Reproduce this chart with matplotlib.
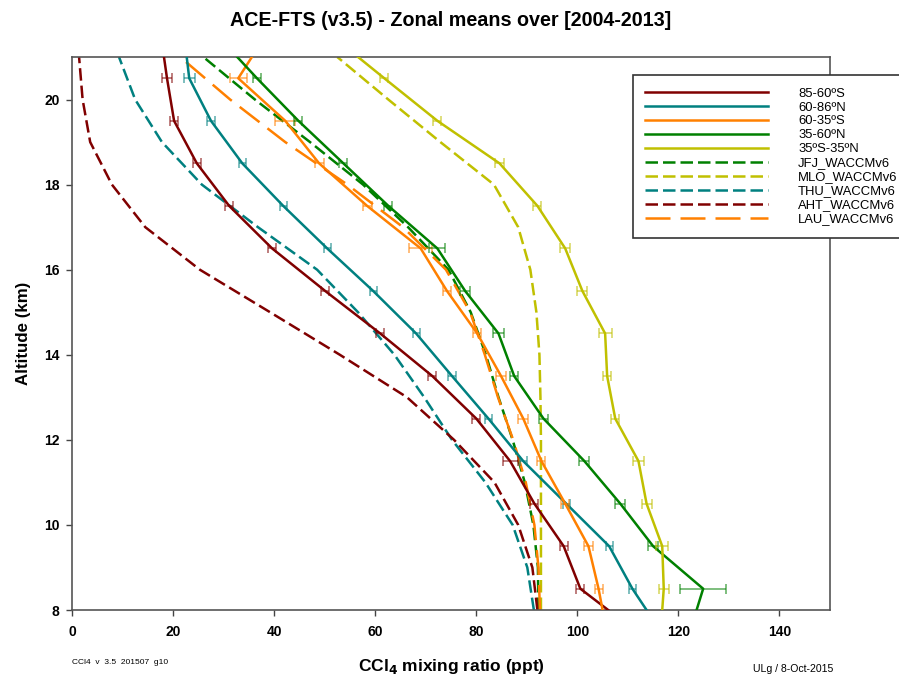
import matplotlib
matplotlib.use("Agg")
import matplotlib.pyplot as plt

plt.rcParams['font.family'] = ['Liberation Sans', 'DejaVu Sans']

# ---------------- data ----------------
# ACE-FTS zonal means: line altitudes (km) and error-bar altitudes (km)
alt_line = [8, 8.5, 9.5, 10.5, 11.5, 12.5, 13.5, 14.5, 15.5, 16.5, 17.5, 18.5, 19.5, 20.5, 21]
alt_err = [8.5, 9.5, 10.5, 11.5, 12.5, 13.5, 14.5, 15.5, 16.5, 17.5, 18.5, 19.5, 20.5]

s85_60S = [106.1, 100.6, 97.3, 91.5, 86.7, 80.0, 71.3, 61.0, 50.1, 39.6, 31.1, 24.7, 20.2, 18.8, 18.2]
s60_86N = [113.7, 110.9, 106.3, 97.8, 89.3, 82.4, 75.2, 68.1, 59.6, 50.5, 41.8, 33.7, 27.5, 23.2, 22.7]
s60_35S = [105.0, 104.2, 102.2, 97.6, 92.9, 89.3, 84.9, 80.2, 74.2, 69.0, 58.4, 48.9, 42.2, 32.9, 35.6]
s35_60N = [123.6, 124.9, 115.0, 108.5, 101.4, 93.3, 87.5, 84.4, 77.8, 72.3, 62.6, 53.7, 44.8, 36.6, 32.7]
s35S_35N = [116.8, 117.1, 116.8, 113.7, 112.1, 107.5, 105.9, 105.5, 101.0, 97.6, 92.1, 84.6, 72.3, 61.8, 56.6]

e85_60S = [0.8, 0.8, 0.8, 1.5, 0.8, 0.8, 0.8, 0.8, 0.8, 0.8, 0.8, 0.8, 1.0]
e60_86N = [0.7, 0.7, 0.7, 0.7, 0.7, 0.7, 0.7, 0.7, 0.7, 0.7, 0.7, 0.7, 1.1]
e60_35S = [0.8, 0.9, 0.8, 0.8, 1.0, 1.0, 0.8, 0.8, 2.3, 0.9, 0.9, 2.0, 1.65]
e35_60N = [4.5, 1.0, 1.0, 1.0, 0.8, 0.8, 1.0, 1.0, 1.6, 0.8, 0.8, 0.8, 0.8]
e35S_35N = [1.0, 1.2, 1.0, 1.0, 0.8, 0.8, 1.3, 1.0, 1.0, 0.8, 0.8, 0.8, 0.8]

# WACCMv6 station profiles
alt_model = [8, 9, 10, 11, 12, 13, 14, 15, 16, 17, 18, 19, 20, 21]
jfj = [92.3, 92.2, 91.3, 89.6, 87.2, 84.4, 81.9, 78.9, 74.5, 66.5, 57.6, 47.1, 36.2, 26.0]
mlo = [92.8, 92.8, 92.8, 92.8, 92.8, 92.7, 92.5, 91.9, 90.7, 88.3, 83.5, 72.9, 62.6, 52.5]
thu = [91.4, 90.1, 87.2, 81.8, 75.2, 69.7, 63.8, 56.6, 48.5, 36.8, 25.7, 17.8, 12.5, 9.3]
aht = [92.1, 91.1, 88.3, 83.6, 75.6, 66.3, 53.0, 39.2, 25.3, 14.5, 7.9, 3.6, 2.1, 1.4]
lau = [92.6, 92.3, 91.5, 89.8, 87.3, 84.3, 81.7, 78.8, 74.0, 65.5, 54.5, 42.2, 31.3, 21.4]

ace_labels = ['85-60ºS', '60-86ºN', '60-35ºS', '35-60ºN', '35ºS-35ºN']
model_labels = ['JFJ_WACCMv6', 'MLO_WACCMv6', 'THU_WACCMv6', 'AHT_WACCMv6', 'LAU_WACCMv6']

x_ticks = [0, 20, 40, 60, 80, 100, 120, 140]
y_ticks = [8, 10, 12, 14, 16, 18, 20]

# ---------------- style ----------------
c_red = '#800000'
c_teal = '#008080'
c_orange = '#FF8000'
c_green = '#008000'
c_yellow = '#C0C000'

fig = plt.figure(figsize=(8.99, 6.76), dpi=100)
ax = fig.add_axes([72/899, 1-610/676, (830-72)/899, (610-57)/676])

lw = 1.8
ace = [(s85_60S, e85_60S, c_red), (s60_86N, e60_86N, c_teal), (s60_35S, e60_35S, c_orange),
       (s35_60N, e35_60N, c_green), (s35S_35N, e35S_35N, c_yellow)]
handles = []
for (vals, errs, col), lab in zip(ace, ace_labels):
    h, = ax.plot(vals, alt_line, color=col, lw=lw, label=lab, zorder=3)
    handles.append(h)
    mid = vals[1:-1]
    ax.errorbar(mid, alt_err, xerr=errs, fmt='none', ecolor=col, alpha=0.55,
                elinewidth=1.3, capsize=3.6, capthick=1.3, zorder=3)

short = (0, (5, 2))
models = [(jfj, c_green, short), (mlo, c_yellow, short), (thu, c_teal, short),
          (aht, c_red, short), (lau, c_orange, (0, (10, 4)))]
for (vals, col, ls), lab in zip(models, model_labels):
    h, = ax.plot(vals, alt_model, color=col, lw=lw, ls=ls, label=lab, zorder=2)
    handles.append(h)

ax.set_xlim(0, 150)
ax.set_ylim(8, 21)
ax.set_xticks(x_ticks)
ax.set_yticks(y_ticks)
ax.tick_params(axis='both', direction='out', length=4, width=1, labelsize=10, color='#444444')
ax.tick_params(axis='x', pad=7)
ax.tick_params(axis='y', pad=5)
for lab in ax.get_xticklabels() + ax.get_yticklabels():
    lab.set_fontweight('bold')
for sp in ax.spines.values():
    sp.set_color('#555555')
    sp.set_linewidth(1.2)

ax.set_xlabel('CCl$_\\mathbf{4}$ mixing ratio (ppt)', fontsize=12.5, fontweight='bold', labelpad=13)
ax.set_ylabel('Altitude (km)', fontsize=12.2, fontweight='bold', labelpad=9)

fig.text(451/899, 1-20/676, 'ACE-FTS (v3.5) - Zonal means over [2004-2013]',
         ha='center', va='center', fontsize=14.2, fontweight='bold')
fig.text(72/899, 1-662/676, 'CCl4  v  3.5  201507  g10', ha='left', va='center', fontsize=6)
fig.text(833/899, 1-669/676, 'ULg / 8-Oct-2015', ha='right', va='center', fontsize=7.6)

leg = fig.legend(handles=handles, loc='upper left', bbox_to_anchor=(633/899, 1-75/676),
                 borderaxespad=0, fontsize=9.4, handlelength=9.4, handletextpad=2.3,
                 labelspacing=0.14, borderpad=0.95, fancybox=False, framealpha=1)
leg.get_frame().set_edgecolor('#333333')
leg.get_frame().set_linewidth(1.2)

fig.savefig('out.png', dpi=100)
